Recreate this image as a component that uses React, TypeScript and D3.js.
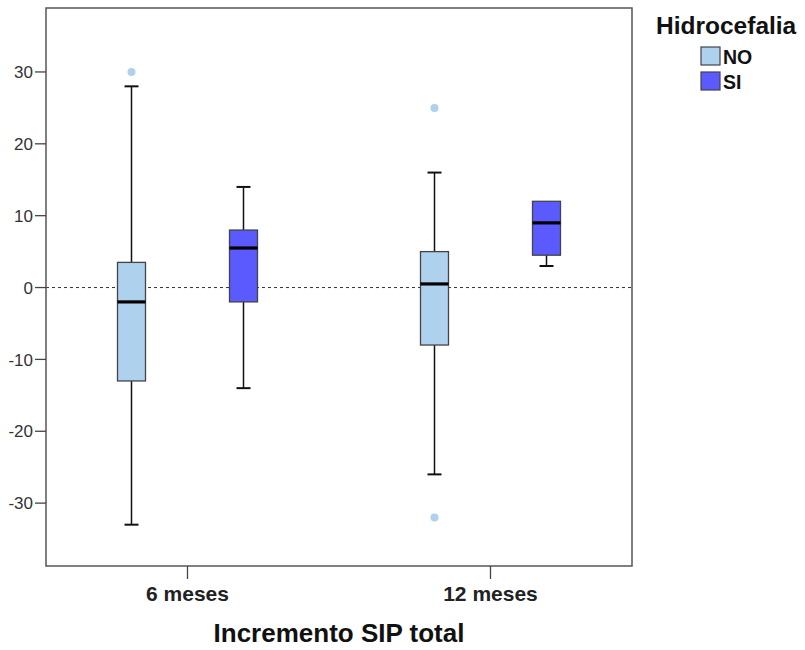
import React from "react";
import * as d3 from "d3";

const categories = ["6 meses", "12 meses"];
const groups = ["NO", "SI"];
const yTicks = [-30, -20, -10, 0, 10, 20, 30];

// NO series
const noLow = [-33, -26];
const noQ1 = [-13, -8];
const noMed = [-2, 0.5];
const noQ3 = [3.5, 5];
const noHigh = [28, 16];
const noOutliers = [[30], [25, -32]];

// SI series
const siLow = [-14, 3];
const siQ1 = [-2, 4.5];
const siMed = [5.5, 9];
const siQ3 = [8, 12];
const siHigh = [14, 12];
const siOutliers: number[][] = [[], []];

const colors: Record<string, string> = { NO: "#aed1ee", SI: "#5a5aff" };

const W = 805, H = 650;
const left = 46, right = 632, top = 8, bottom = 566;
const FONT = "'Liberation Sans', Arial, sans-serif";

export default function App() {
  const y = d3.scaleLinear().domain([-38.75, 38.9]).range([bottom, top]);
  const x = d3.scalePoint<string>().domain(categories).range([left, right]).padding(0.467);
  const xg = d3.scalePoint<string>().domain(groups).range([-56, 56]);
  const boxW = 28;
  const capW = 14;

  const series = [
    { g: "NO", low: noLow, q1: noQ1, med: noMed, q3: noQ3, high: noHigh, out: noOutliers },
    { g: "SI", low: siLow, q1: siQ1, med: siMed, q3: siQ3, high: siHigh, out: siOutliers },
  ];

  return (
    <svg width={W} height={H} style={{ position: "absolute", left: 0, top: 0, background: "#fff" }} fontFamily={FONT}>
      <rect x={0} y={0} width={W} height={H} fill="#fff" />
      {/* reference line at 0 */}
      <line x1={left} x2={right} y1={y(0)} y2={y(0)} stroke="#333" strokeWidth={1} strokeDasharray="3,3" />
      {series.map((s) =>
        categories.map((c, i) => {
          const cx = (x(c) as number) + (xg(s.g) as number);
          return (
            <g key={s.g + c}>
              {s.high[i] > s.q3[i] && (
                <>
                  <line x1={cx} x2={cx} y1={y(s.q3[i])} y2={y(s.high[i])} stroke="#111" strokeWidth={1.5} />
                  <line x1={cx - capW / 2} x2={cx + capW / 2} y1={y(s.high[i])} y2={y(s.high[i])} stroke="#111" strokeWidth={2} />
                </>
              )}
              {s.low[i] < s.q1[i] && (
                <>
                  <line x1={cx} x2={cx} y1={y(s.q1[i])} y2={y(s.low[i])} stroke="#111" strokeWidth={1.5} />
                  <line x1={cx - capW / 2} x2={cx + capW / 2} y1={y(s.low[i])} y2={y(s.low[i])} stroke="#111" strokeWidth={2} />
                </>
              )}
              <rect
                x={cx - boxW / 2}
                y={y(s.q3[i])}
                width={boxW}
                height={y(s.q1[i]) - y(s.q3[i])}
                fill={colors[s.g]}
                stroke="#444"
                strokeWidth={1.3}
              />
              <line x1={cx - boxW / 2} x2={cx + boxW / 2} y1={y(s.med[i])} y2={y(s.med[i])} stroke="#000" strokeWidth={3.2} />
              {s.out[i].map((v, k) => (
                <circle key={k} cx={cx} cy={y(v)} r={4} fill={colors[s.g]} />
              ))}
            </g>
          );
        })
      )}
      {/* frame */}
      <rect x={left} y={top} width={right - left} height={bottom - top} fill="none" stroke="#555" strokeWidth={1.5} />
      {/* y axis ticks */}
      {yTicks.map((t) => (
        <g key={t}>
          <line x1={left - 11} x2={left} y1={y(t)} y2={y(t)} stroke="#444" strokeWidth={1.3} />
          <text x={left - 13} y={y(t)} dy="0.36em" textAnchor="end" fontSize={17} fill="#333">
            {t}
          </text>
        </g>
      ))}
      {/* x axis ticks */}
      {categories.map((c) => (
        <g key={c}>
          <line x1={x(c)} x2={x(c)} y1={bottom} y2={bottom + 13} stroke="#444" strokeWidth={1.3} />
          <text x={x(c)} y={601} textAnchor="middle" fontSize={21} fontWeight="bold" fill="#222">
            {c}
          </text>
        </g>
      ))}
      <text x={(left + right) / 2} y={642} textAnchor="middle" fontSize={26} fontWeight="bold" fill="#111">
        Incremento SIP total
      </text>
      {/* legend */}
      <text x={656} y={34} fontSize={24.5} fontWeight="bold" fill="#111">
        Hidrocefalia
      </text>
      {groups.map((g, i) => (
        <g key={g}>
          <rect x={701} y={47 + i * 25} width={19} height={18} fill={colors[g]} stroke="#444" strokeWidth={1.2} />
          <text x={723} y={63.5 + i * 25} fontSize={19.5} fontWeight="bold" fill="#111">
            {g}
          </text>
        </g>
      ))}
    </svg>
  );
}
